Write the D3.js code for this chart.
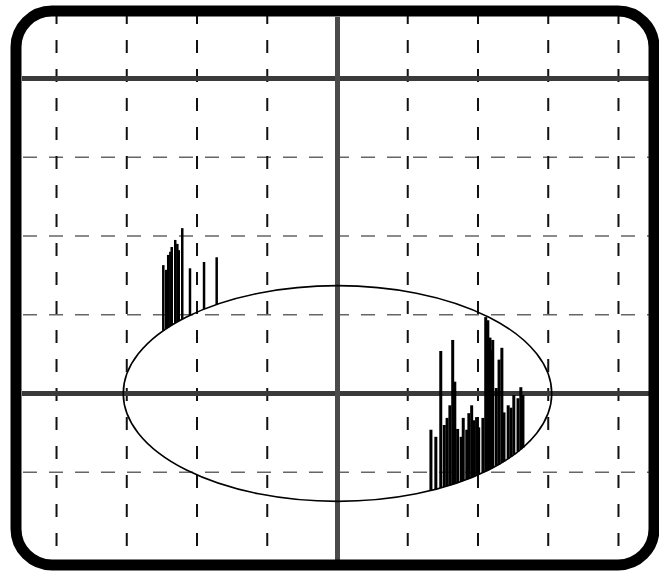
<!DOCTYPE html>
<html>
<head>
<meta charset="utf-8">
<script src="https://cdn.jsdelivr.net/npm/d3@7"></script>
<style>
  body { margin: 0; background: #fff; }
  svg { display: block; }
</style>
</head>
<body>
<div id="chart"></div>
<script>
// grid positions, in screen divisions
var vGrid = [-4, -3, -2, -1, 0, 1, 2, 3, 4];
var hGrid = [4, 3, 2, 1, 0, -1];
var solidH = [4, 0];

// ellipse half-axes (divisions)
var ellipseRx = 3.05;
var ellipseRy = 1.37;

// spikes rising from the upper edge of the ellipse: [x, top]
var upperSpikes = [
    [-2.48, 1.63], [-2.44, 1.57], [-2.41, 1.76], [-2.38, 1.80],
    [-2.36, 1.86], [-2.31, 1.95], [-2.28, 1.90], [-2.26, 1.82],
    [-2.21, 2.10], [-2.10, 1.59], [-1.90, 1.67], [-1.72, 1.73]
];

// spikes rising from the lower edge of the ellipse: [x, top]
var lowerSpikes = [
    [1.33, -0.46], [1.40, -0.55], [1.47, 0.54], [1.52, -0.40],
    [1.56, -0.31], [1.60, -0.15], [1.64, 0.68], [1.67, 0.15],
    [1.71, -0.45], [1.76, -0.55], [1.79, -0.31], [1.84, -0.46],
    [1.87, -0.25], [1.91, -0.15], [1.94, -0.34], [1.98, -0.30],
    [2.01, -0.43], [2.07, -0.31], [2.11, 0.97], [2.14, 0.93],
    [2.17, 0.71], [2.19, 0.55], [2.21, 0.68], [2.26, 0.07],
    [2.30, 0.43], [2.34, 0.58], [2.37, -0.24], [2.43, -0.15],
    [2.47, -0.18], [2.51, -0.02], [2.57, -0.06], [2.61, 0.08],
    [2.64, -0.02]
];

var width = 659, height = 571;

var x = d3.scaleLinear().domain([-4.5, 4.5]).range([21.4, 653.6]);
var y = d3.scaleLinear().domain([-2, 4]).range([551, 78.5]);

var svg = d3.select("#chart")
    .append("svg")
    .attr("width", width)
    .attr("height", height);

svg.append("rect")
    .attr("width", width)
    .attr("height", height)
    .attr("fill", "#fff");

// dashed horizontal grid
svg.selectAll(".hgrid")
    .data(hGrid.filter(function (d) { return solidH.indexOf(d) < 0; }))
    .enter()
    .append("line")
    .attr("class", "hgrid")
    .attr("x1", 23)
    .attr("x2", 651)
    .attr("y1", function (d) { return y(d); })
    .attr("y2", function (d) { return y(d); })
    .attr("stroke", "#666")
    .attr("stroke-width", 1.5)
    .attr("stroke-dasharray", "14,12");

// dashed vertical grid
svg.selectAll(".vgrid")
    .data(vGrid.filter(function (d) { return d !== 0; }))
    .enter()
    .append("line")
    .attr("class", "vgrid")
    .attr("x1", function (d) { return x(d); })
    .attr("x2", function (d) { return x(d); })
    .attr("y1", 11)
    .attr("y2", 560)
    .attr("stroke", "#111")
    .attr("stroke-width", 2)
    .attr("stroke-dasharray", "13,16");

// solid axes
svg.selectAll(".haxis")
    .data(solidH)
    .enter()
    .append("line")
    .attr("class", "haxis")
    .attr("x1", 22)
    .attr("x2", 652)
    .attr("y1", function (d) { return y(d); })
    .attr("y2", function (d) { return y(d); })
    .attr("stroke", "#3a3a3a")
    .attr("stroke-width", 5);

svg.append("line")
    .attr("x1", x(0))
    .attr("x2", x(0))
    .attr("y1", 17)
    .attr("y2", 560)
    .attr("stroke", "#4a4a4a")
    .attr("stroke-width", 5);

// ellipse
svg.append("ellipse")
    .attr("cx", x(0))
    .attr("cy", y(0))
    .attr("rx", x(ellipseRx) - x(0))
    .attr("ry", y(0) - y(ellipseRy))
    .attr("fill", "none")
    .attr("stroke", "#000")
    .attr("stroke-width", 1.6);

function edge(xv) {
    var t = 1 - (xv / ellipseRx) * (xv / ellipseRx);
    return ellipseRy * Math.sqrt(Math.max(t, 0));
}

svg.selectAll(".up")
    .data(upperSpikes)
    .enter()
    .append("line")
    .attr("class", "up")
    .attr("x1", function (d) { return x(d[0]); })
    .attr("x2", function (d) { return x(d[0]); })
    .attr("y1", function (d) { return y(edge(d[0])); })
    .attr("y2", function (d) { return y(d[1]); })
    .attr("stroke", "#000")
    .attr("stroke-width", 2.5);

svg.selectAll(".low")
    .data(lowerSpikes)
    .enter()
    .append("line")
    .attr("class", "low")
    .attr("x1", function (d) { return x(d[0]); })
    .attr("x2", function (d) { return x(d[0]); })
    .attr("y1", function (d) { return y(-edge(d[0])); })
    .attr("y2", function (d) { return y(d[1]); })
    .attr("stroke", "#000")
    .attr("stroke-width", 3);

// screen bezel
svg.append("rect")
    .attr("x", 16)
    .attr("y", 11)
    .attr("width", 638)
    .attr("height", 554)
    .attr("rx", 36)
    .attr("ry", 36)
    .attr("fill", "none")
    .attr("stroke", "#000")
    .attr("stroke-width", 11);
</script>
</body>
</html>
